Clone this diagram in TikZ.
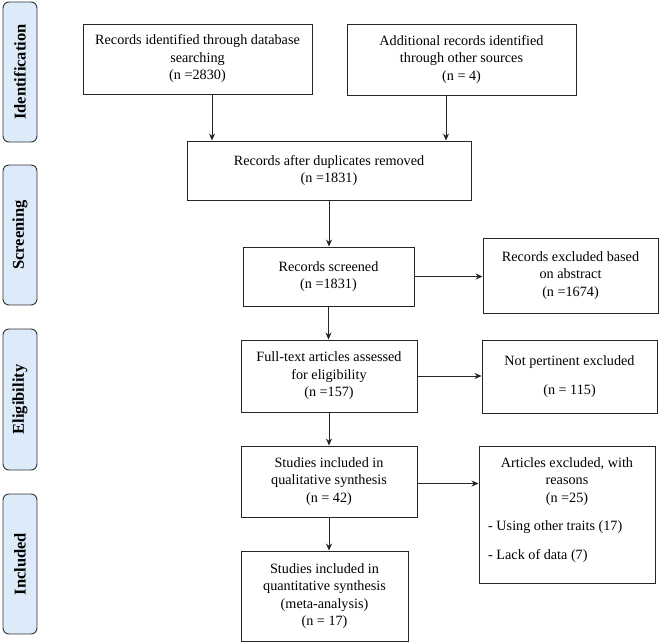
\documentclass[tikz,border=0pt]{standalone}
\usepackage{fontspec}
\setmainfont{Liberation Serif}
\usetikzlibrary{arrows.meta}
\definecolor{sidefill}{RGB}{220,234,250}
\begin{document}
\begin{tikzpicture}[x=1pt,y=-1pt,
  box/.style={draw=black!85,line width=0.9pt,inner sep=0pt,align=center,
    font=\fontsize{14.2}{17.5}\selectfont},
  side/.style={draw=black!80,line width=0.9pt,fill=sidefill,rounded corners=6pt,
    minimum height=34pt,inner sep=0pt,rotate=90,
    font=\fontsize{16.5}{18}\selectfont\bfseries},
  arr/.style={line width=0.9pt,draw=black!85,-{Stealth[length=7pt,width=6pt]}},
  txt/.style={inner sep=0pt,font=\fontsize{14.2}{17.5}\selectfont}]
\useasboundingbox (0,0) rectangle (660,642);
% side labels
\node[side,minimum width=140pt] (s1) at (20,72) {Identification};
\node[side,minimum width=140pt] (s2) at (20,235) {Screening};
\node[side,minimum width=141pt] (s3) at (20,399.5) {Eligibility};
\node[side,minimum width=140pt] (s4) at (20,564) {Included};
% boxes
\node[box,minimum width=229pt,minimum height=70pt] (b1) at (197.5,59)
  {Records identified through database\\searching\\(n =2830)};
\node[box,minimum width=229pt,minimum height=71pt] (b2) at (461.5,59.5)
  {Additional records identified\\through other sources\\(n = 4)};
\node[box,minimum width=284pt,minimum height=59pt] (b3) at (329,170.5)
  {Records after duplicates removed\\(n =1831)};
\node[box,minimum width=171pt,minimum height=59pt] (b4) at (328.5,276.5)
  {Records screened\\(n =1831)};
\node[box,minimum width=175pt,minimum height=75pt] (b5) at (570.5,275.5)
  {Records excluded based\\on abstract\\(n =1674)};
\node[box,minimum width=176pt,minimum height=72pt] (b6) at (329,376)
  {Full-text articles assessed\\for eligibility\\(n =157)};
\node[box,minimum width=175pt,minimum height=73pt] (b7) at (569.5,376.5)
  {Not pertinent excluded\\[11pt](n = 115)};
\node[box,minimum width=176pt,minimum height=71pt] (b8) at (329,481.5)
  {Studies included in\\qualitative synthesis\\(n = 42)};
\node[box,minimum width=176pt,minimum height=137pt] (b9) at (567,514.5) {};
\node[txt,align=center,anchor=north] (b9t) at (567,457)
  {Articles excluded, with\\reasons\\(n =25)};
\node[txt,anchor=west] (b9a) at (488,527) {- Using other traits (17)};
\node[txt,anchor=west] (b9b) at (488,556) {- Lack of data (7)};
\node[box,minimum width=167pt,minimum height=90pt] (b10) at (324.5,596)
  {Studies included in\\quantitative synthesis\\(meta-analysis)\\(n = 17)};
% arrows
\draw[arr] ([xshift=14.5pt]b1.south) -- ([xshift=14.5pt]b1.south |- b3.north);
\draw[arr] ([xshift=-15.5pt]b2.south) -- ([xshift=-15.5pt]b2.south |- b3.north);
\draw[arr] (b3.south) -- (b3.south |- b4.north);
\draw[arr] (b4.south) -- (b4.south |- b6.north);
\draw[arr] (b6.south) -- (b6.south |- b8.north);
\draw[arr] (b8.south) -- (b8.south |- b10.north);
\draw[arr] (b4.east) -- (b4.east -| b5.west);
\draw[arr] (b6.east) -- (b6.east -| b7.west);
\draw[arr] ([yshift=-2pt]b8.east) -- ([yshift=-2pt]b8.east -| b9.west);
\end{tikzpicture}
\end{document}
